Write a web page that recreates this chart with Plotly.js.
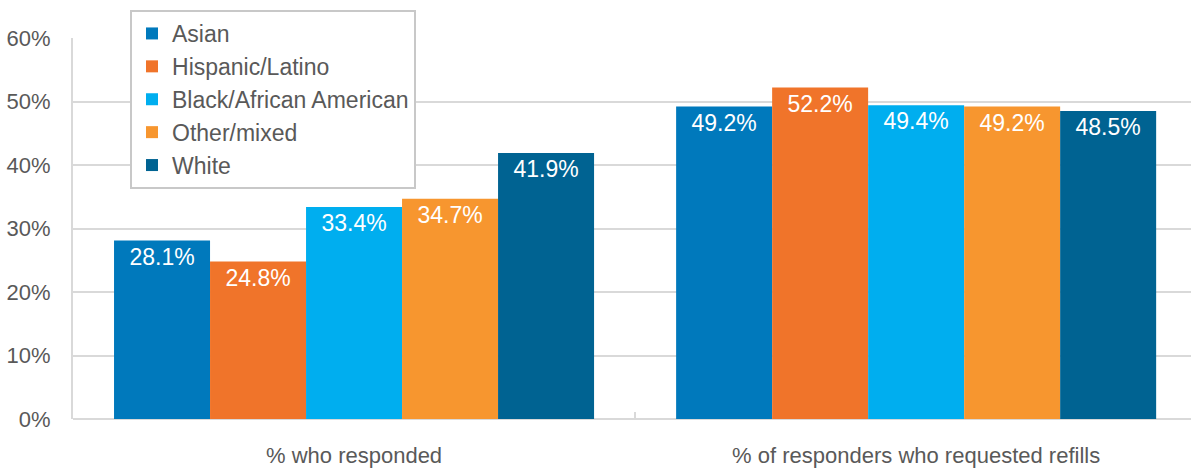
<!DOCTYPE html>
<html>
<head>
<meta charset="utf-8">
<script src="https://cdn.plot.ly/plotly-3.0.1.min.js"></script>
<style>html,body{margin:0;padding:0;background:#fff}#chart{width:1191px;height:470px}</style>
</head>
<body>
<div id="chart"></div>
<script>
const categories = ["% who responded", "% of responders who requested refills"];
const seriesNames = ["Asian", "Hispanic/Latino", "Black/African American", "Other/mixed", "White"];
const asian = [28.1, 49.2];
const hispanic = [24.8, 52.2];
const black = [33.4, 49.4];
const other = [34.7, 49.2];
const white = [41.9, 48.5];
const yTickVals = [0, 10, 20, 30, 40, 50, 60];
const yTickText = ["0%", "10%", "20%", "30%", "40%", "50%", "60%"];
const colors = ["#0079BC", "#F0742A", "#00AEEF", "#F7962F", "#006392"];

const allSeries = [asian, hispanic, black, other, white];
const traces = allSeries.map((vals, i) => ({
  type: "bar",
  name: seriesNames[i],
  x: categories,
  y: vals,
  marker: {color: colors[i], line: {width: 0}},
  text: vals.map(v => v.toFixed(1) + "%"),
  textposition: "inside",
  insidetextanchor: "end",
  textangle: 0,
  insidetextfont: {family: "Liberation Sans, Arial, sans-serif", size: 23, color: "#ffffff"},
  hoverinfo: "skip"
}));

const layout = {
  width: 1191,
  height: 470,
  paper_bgcolor: "#ffffff",
  plot_bgcolor: "#ffffff",
  margin: {l: 73, r: 0, t: 38, b: 51, pad: 0},
  barmode: "group",
  bargap: 0.146,
  bargroupgap: 0,
  font: {family: "Liberation Sans, Arial, sans-serif", color: "#595959"},
  xaxis: {
    type: "category",
    range: [-0.5, 1.489],
    showgrid: false,
    showline: false,
    zeroline: false,
    ticks: "inside",
    tickson: "boundaries",
    ticklen: 7,
    tickwidth: 2,
    tickcolor: "#d9d9d9",
    tickfont: {size: 22, color: "#595959"},
    ticklabelstandoff: 21
  },
  yaxis: {
    range: [0, 60],
    tickvals: yTickVals,
    ticktext: yTickText,
    showgrid: true,
    gridcolor: "#d9d9d9",
    gridwidth: 2,
    showline: true,
    linecolor: "#d9d9d9",
    linewidth: 2,
    zeroline: true,
    zerolinecolor: "#d9d9d9",
    zerolinewidth: 2,
    ticks: "",
    tickfont: {size: 22, color: "#595959"},
    ticklabelstandoff: 16
  },
  showlegend: true,
  legend: {
    x: 0.051,
    y: 1.0735,
    xanchor: "left",
    yanchor: "top",
    bgcolor: "#ffffff",
    bordercolor: "#c8c8c8",
    borderwidth: 2,
    font: {size: 23, color: "#595959"},
    traceorder: "normal",
    itemclick: false,
    itemdoubleclick: false
  }
};

Plotly.newPlot("chart", traces, layout, {displayModeBar: false, staticPlot: true});
</script>
</body>
</html>
